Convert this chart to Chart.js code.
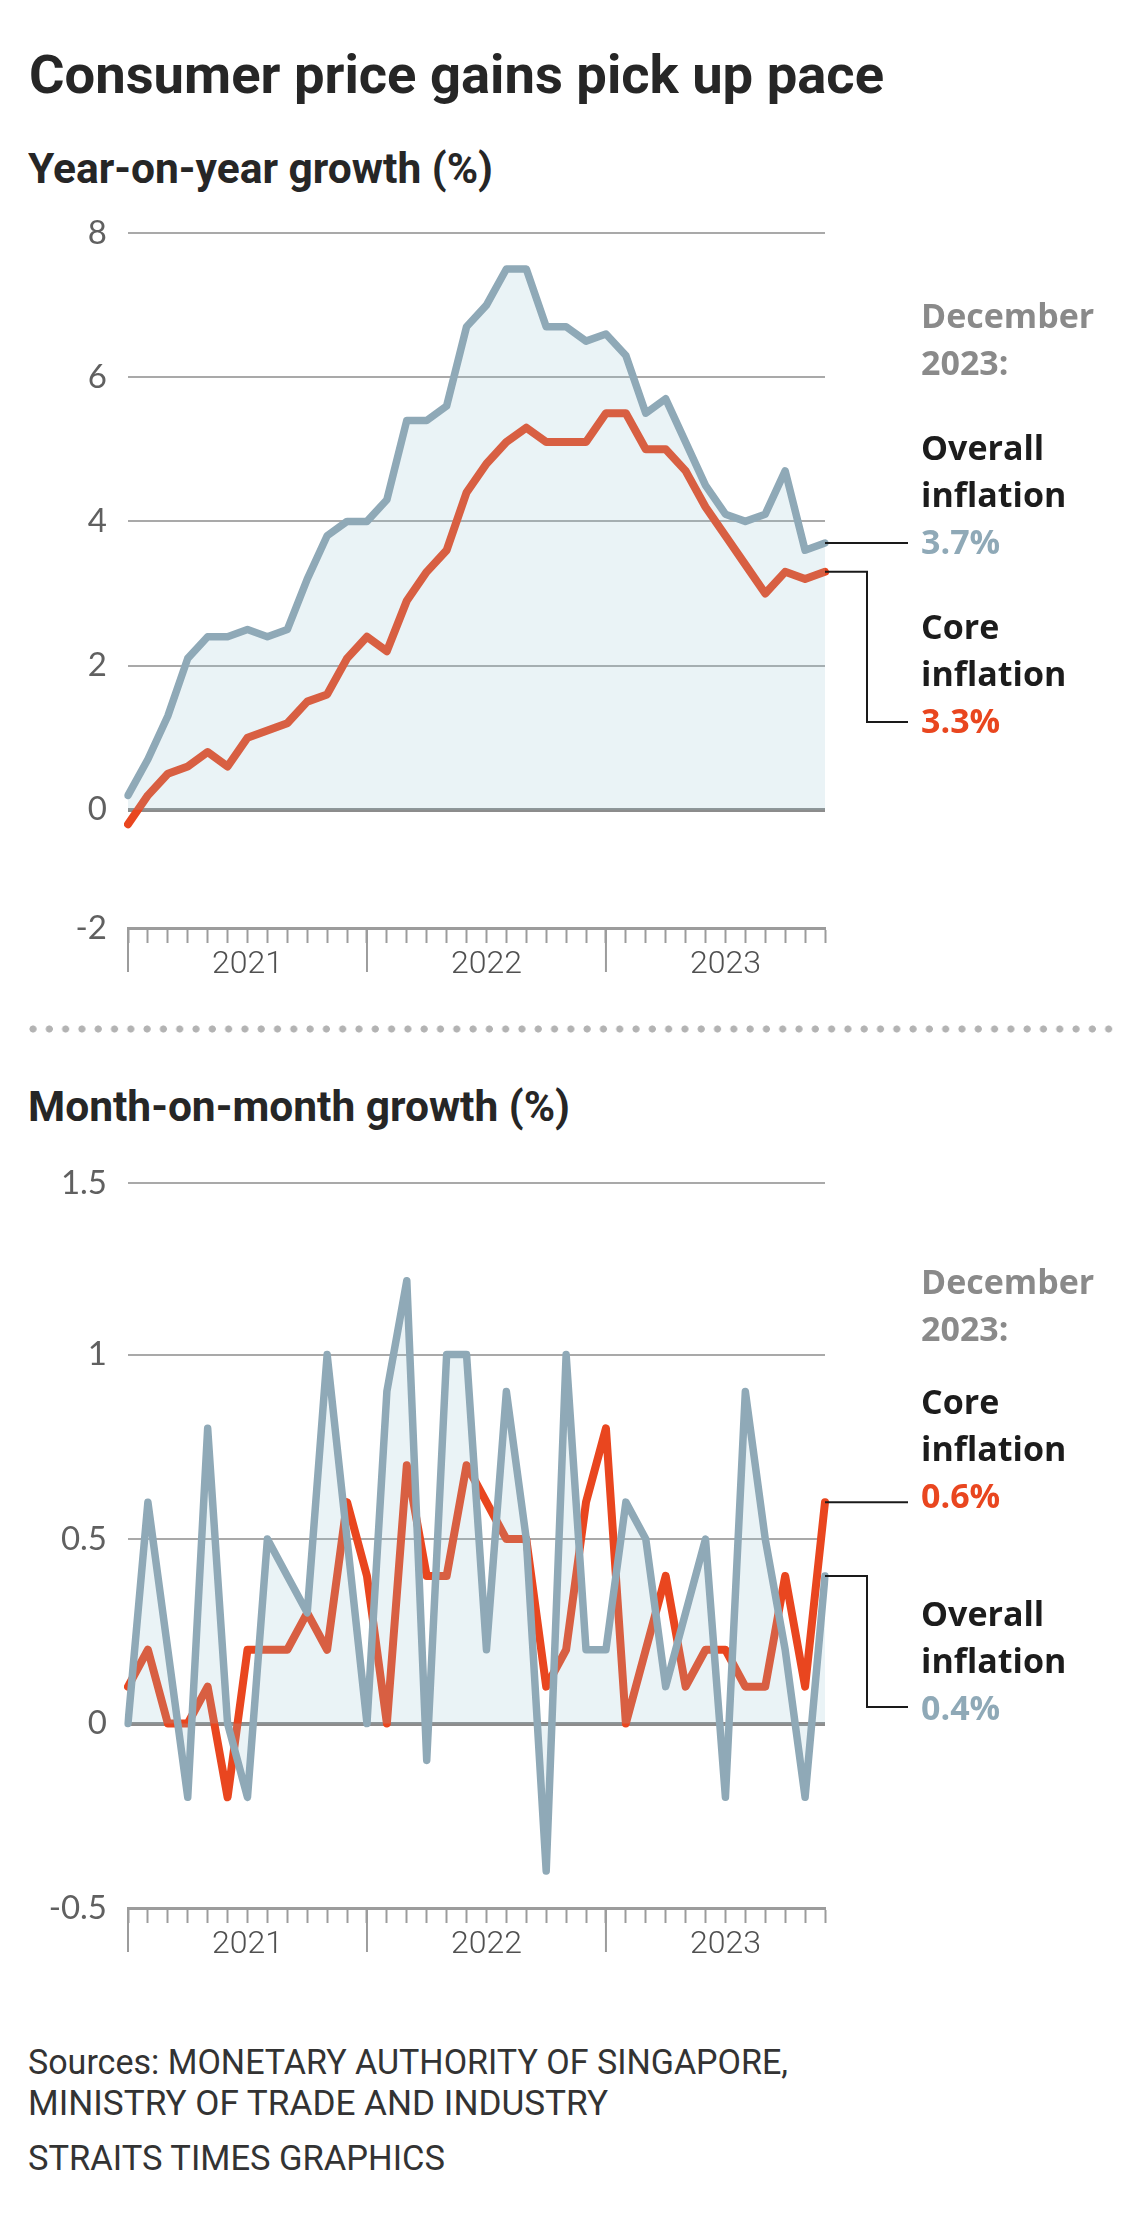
<!DOCTYPE html>
<html>
<head>
<meta charset="utf-8">
<script src="https://cdn.jsdelivr.net/npm/chart.js@4.4.1/dist/chart.umd.min.js"></script>
<style>
  html, body { margin: 0; padding: 0; background: #fff; }
  body { width: 1140px; height: 2234px; position: relative; overflow: hidden; }
  .txt { position: absolute; white-space: nowrap; transform-origin: 0 0; }
  .title { font: 700 54px/54px Roboto, sans-serif; color: #262626; left: 29px; top: 48px; }
  .sub { font: 700 42px/42px Roboto, sans-serif; color: #262626; left: 28px; }
  .note { font: 700 34px/47px "Open Sans", sans-serif; color: #1c1c1c; left: 921px; }
  .grey { color: #8a8a8a; }
  .blue { color: #8fa9b7; }
  .red { color: #e9461f; }
  .foot { font: 400 35px/35px Roboto, sans-serif; color: #333; left: 28px; }
  .dots { position: absolute; left: 29px; top: 1025px; width: 1090px; height: 8px;
          background: radial-gradient(circle at 4px 4px, #b3b3b3 3.2px, transparent 3.9px) 0 0 / 16.3px 8px repeat-x; }
  canvas { position: absolute; left: 0; }
</style>
</head>
<body>
<span class="txt title" id="title">Consumer price gains pick up pace</span>
<span class="txt sub" id="sub1" style="top:148px">Year-on-year growth (%)</span>

<canvas id="yoy" width="1140" height="830" style="top:190px"></canvas>

<div class="txt note grey" style="top:292px">December<br>2023:</div>
<div class="txt note" style="top:424px">Overall<br>inflation<br><span class="blue">3.7%</span></div>
<div class="txt note" style="top:603px">Core<br>inflation<br><span class="red">3.3%</span></div>

<div class="dots"></div>

<span class="txt sub" id="sub2" style="top:1086px">Month-on-month growth (%)</span>

<canvas id="mom" width="1140" height="870" style="top:1140px"></canvas>

<div class="txt note grey" style="top:1258px">December<br>2023:</div>
<div class="txt note" style="top:1378px">Core<br>inflation<br><span class="red">0.6%</span></div>
<div class="txt note" style="top:1590px">Overall<br>inflation<br><span class="blue">0.4%</span></div>

<span class="txt foot" id="f1" style="top:2045px">Sources: MONETARY AUTHORITY OF SINGAPORE,</span>
<span class="txt foot" id="f2" style="top:2086px">MINISTRY OF TRADE AND INDUSTRY</span>
<span class="txt foot" id="f3" style="top:2141px">STRAITS TIMES GRAPHICS</span>

<script>
// Data: Jan 2021 - Dec 2023
const years = ['2021', '2022', '2023'];
const monthNames = ['Jan', 'Feb', 'Mar', 'Apr', 'May', 'Jun', 'Jul', 'Aug', 'Sep', 'Oct', 'Nov', 'Dec'];
const months = years.flatMap(y => monthNames.map(m => m + ' ' + y));

// Year-on-year (%)
const yoyOverall = [0.2, 0.7, 1.3, 2.1, 2.4, 2.4, 2.5, 2.4, 2.5, 3.2, 3.8, 4.0,
                    4.0, 4.3, 5.4, 5.4, 5.6, 6.7, 7.0, 7.5, 7.5, 6.7, 6.7, 6.5,
                    6.6, 6.3, 5.5, 5.7, 5.1, 4.5, 4.1, 4.0, 4.1, 4.7, 3.6, 3.7];
const yoyCore = [-0.2, 0.2, 0.5, 0.6, 0.8, 0.6, 1.0, 1.1, 1.2, 1.5, 1.6, 2.1,
                 2.4, 2.2, 2.9, 3.3, 3.6, 4.4, 4.8, 5.1, 5.3, 5.1, 5.1, 5.1,
                 5.5, 5.5, 5.0, 5.0, 4.7, 4.2, 3.8, 3.4, 3.0, 3.3, 3.2, 3.3];

// Month-on-month (%)
const momOverall = [0, 0.6, 0.2, -0.2, 0.8, 0, -0.2, 0.5, 0.4, 0.3, 1.0, 0.5,
                    0, 0.9, 1.2, -0.1, 1.0, 1.0, 0.2, 0.9, 0.5, -0.4, 1.0, 0.2,
                    0.2, 0.6, 0.5, 0.1, 0.3, 0.5, -0.2, 0.9, 0.5, 0.2, -0.2, 0.4];
const momCore = [0.1, 0.2, 0, 0, 0.1, -0.2, 0.2, 0.2, 0.2, 0.3, 0.2, 0.6,
                 0.4, 0, 0.7, 0.4, 0.4, 0.7, 0.6, 0.5, 0.5, 0.1, 0.2, 0.6,
                 0.8, 0, 0.2, 0.4, 0.1, 0.2, 0.2, 0.1, 0.1, 0.4, 0.1, 0.6];

// Tick labels
const yoyTicks = ['8', '6', '4', '2', '0', '-2'];
const momTicks = ['1.5', '1', '0.5', '0', '-0.5'];
const majorTickIdx = [0, 12, 24];

// Styling
const BLUE = '#8fa9b7';
const RED = '#e9461f';
const FILL = 'rgba(150, 196, 208, 0.2)';
const GRID = '#a9a9a9';
const ZERO = '#8c8c8c';
const AXIS = '#9c9c9c';

// where the stylised axis ends sit on the value scale
const yoyTickPos = [8, 6, 4, 2, 0, -1.64];
const momTickPos = [1.465, 1, 0.5, 0, -0.5];

function fitWidth(id, w) {
    const el = document.getElementById(id);
    el.style.transform = 'scaleX(' + (w / el.getBoundingClientRect().width) + ')';
}
fitWidth('title', 855);
fitWidth('sub1', 465);
fitWidth('sub2', 542);
fitWidth('f1', 760);
fitWidth('f2', 580);
fitWidth('f3', 417);

const decorations = {
    id: 'decorations',
    afterDatasetsDraw(chart, args, opts) {
        const { ctx, chartArea } = chart;
        const x = chart.scales.x;
        ctx.save();
        ctx.strokeStyle = AXIS;
        ctx.lineWidth = 2;
        majorTickIdx.forEach(i => {
            const px = x.getPixelForValue(i);
            ctx.beginPath();
            ctx.moveTo(px, chartArea.bottom);
            ctx.lineTo(px, chartArea.bottom + 44);
            ctx.stroke();
        });
        ctx.strokeStyle = '#1a1a1a';
        ctx.lineWidth = 2;
        opts.leaders.forEach(l => {
            const meta = chart.getDatasetMeta(l.dataset);
            const pt = meta.data[meta.data.length - 1];
            ctx.beginPath();
            ctx.moveTo(pt.x, pt.y);
            if (l.bendX) {
                ctx.lineTo(l.bendX, pt.y);
                ctx.lineTo(l.bendX, l.endY - opts.top);
                ctx.lineTo(l.endX, l.endY - opts.top);
            } else {
                ctx.lineTo(l.endX, pt.y);
            }
            ctx.stroke();
        });
        ctx.restore();
    }
};

function xAxis(height) {
    return {
        type: 'category',
        offset: false,
        grid: { drawOnChartArea: false, drawTicks: true, tickLength: 15, tickColor: AXIS, tickWidth: 2, offset: false },
        border: { display: true, color: AXIS, width: 3 },
        ticks: {
            autoSkip: false, maxRotation: 0, minRotation: 0, padding: 3,
            color: '#505050', font: { family: 'Roboto', weight: 300, size: 32 },
            callback: (v, i) => i % 12 === 6 ? years[Math.floor(i / 12)] : ''
        },
        afterFit: s => { s.height = height; }
    };
}

function yAxis(pos, labels) {
    return {
        min: pos[pos.length - 1],
        max: pos[0],
        afterBuildTicks: s => { s.ticks = pos.map(v => ({ value: v })); },
        grid: {
            drawTicks: false,
            color: c => c.tick && c.tick.value === 0 ? ZERO : GRID,
            lineWidth: c => c.tick && c.tick.value === 0 ? 4 : 2
        },
        border: { display: false },
        ticks: {
            padding: 21, color: '#606060',
            font: { family: 'Lato', weight: 400, size: 33 },
            callback: (v, i) => labels[i]
        },
        afterFit: s => { s.width = 128; }
    };
}

function makeChart(id, overall, core, tickPos, tickLabels, xHeight, canvasTop, leaders) {
    return new Chart(document.getElementById(id), {
        type: 'line',
        data: {
            labels: months,
            datasets: [{
                label: 'Overall inflation',
                data: overall,
                borderColor: BLUE,
                borderWidth: 7.5,
                backgroundColor: FILL,
                fill: 'origin'
            }, {
                label: 'Core inflation',
                data: core,
                borderColor: RED,
                borderWidth: 8,
                fill: false
            }]
        },
        options: {
            responsive: false,
            animation: false,
            elements: {
                point: { radius: 0 },
                line: { tension: 0, borderCapStyle: 'round', borderJoinStyle: 'round' }
            },
            layout: { padding: { top: 43, right: 315, left: 0, bottom: 0 } },
            plugins: {
                legend: { display: false },
                tooltip: { enabled: false },
                decorations: { top: canvasTop, leaders: leaders }
            },
            scales: {
                x: xAxis(xHeight),
                y: yAxis(tickPos, tickLabels)
            }
        },
        plugins: [decorations]
    });
}

makeChart('yoy', yoyOverall, yoyCore, yoyTickPos, yoyTicks, 92, 190, [
    { dataset: 0, endX: 908 },
    { dataset: 1, bendX: 867, endX: 908, endY: 722 }
]);

makeChart('mom', momOverall, momCore, momTickPos, momTicks, 102, 1140, [
    { dataset: 1, endX: 908 },
    { dataset: 0, bendX: 867, endX: 908, endY: 1707 }
]);
</script>
</body>
</html>
